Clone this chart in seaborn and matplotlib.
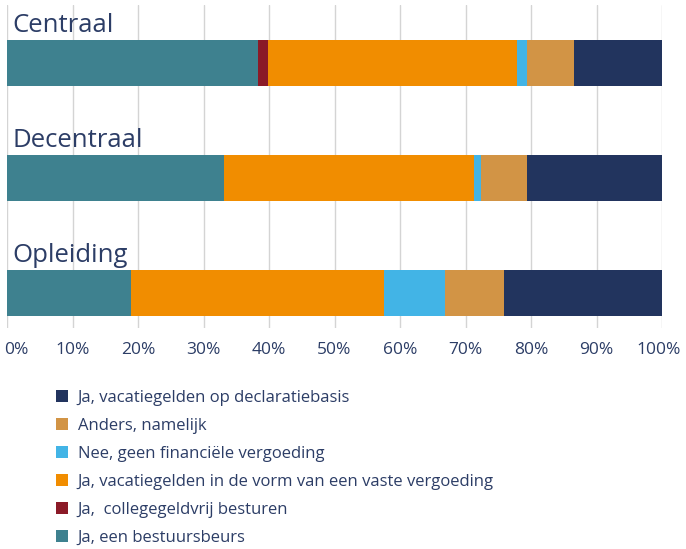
import matplotlib
matplotlib.use("Agg")
import matplotlib.pyplot as plt
import seaborn as sns
import pandas as pd
import numpy as np
from matplotlib.patches import Patch
from matplotlib.transforms import ScaledTranslation

categories = ["Centraal", "Decentraal", "Opleiding"]
series = ["Ja, een bestuursbeurs",
          "Ja,  collegegeldvrij besturen",
          "Ja, vacatiegelden in de vorm van een vaste vergoeding",
          "Nee, geen financiële vergoeding",
          "Anders, namelijk",
          "Ja, vacatiegelden op declaratiebasis"]
bestuursbeurs = [38.3, 33.2, 19.0]
collegegeldvrij = [1.6, 0.0, 0.0]
vaste_vergoeding = [38.0, 38.1, 38.6]
geen_vergoeding = [1.5, 1.0, 9.2]
anders = [7.1, 7.1, 9.1]
declaratiebasis = [13.5, 20.6, 24.1]
colors = ["#3E818F", "#8B1A27", "#F18D00", "#42B4E6", "#D29445", "#22345E"]
xticks = [0, 10, 20, 30, 40, 50, 60, 70, 80, 90, 100]

values = [bestuursbeurs, collegegeldvrij, vaste_vergoeding, geen_vergoeding, anders, declaratiebasis]
text_color = "#2C3D66"

sns.set_theme(style="white")
plt.rcParams["font.family"] = ["Open Sans", "DejaVu Sans"]

fig = plt.figure(figsize=(6.86, 5.49), dpi=100)
ax = fig.add_axes([7/686, 1-328/549, (662-7)/686, (328-5)/549])

cum = np.cumsum(np.array(values), axis=0)
rows = []
for s, name in enumerate(series):
    for c, cat in enumerate(categories):
        rows.append({"cat": cat, "series": name, "cum": cum[s, c]})
df = pd.DataFrame(rows)

for s in range(len(series) - 1, -1, -1):
    sub = df[df["series"] == series[s]]
    sns.barplot(data=sub, x="cum", y="cat", order=categories, color=colors[s],
                orient="h", width=0.4, ax=ax, saturation=1, edgecolor="none",
                linewidth=0)

ax.set_xlim(0, 100)
ax.set_ylim(2.3, -0.5)
ax.set_xticks(xticks)
ax.set_xticklabels([f"{t}%" for t in xticks], fontsize=12.5, color=text_color)
ax.tick_params(axis="x", length=0, pad=10)
lbls = ax.get_xticklabels()
lbls[0].set_horizontalalignment("left")
lbls[0].set_transform(lbls[0].get_transform() + ScaledTranslation(-3/100, 0, fig.dpi_scale_trans))
lbls[-1].set_transform(lbls[-1].get_transform() + ScaledTranslation(-3/100, 0, fig.dpi_scale_trans))
ax.set_yticks([])
ax.set_xlabel("")
ax.set_ylabel("")
ax.grid(axis="x", color="#D4D4D4", linewidth=1)
ax.set_axisbelow(True)
for sp in ax.spines.values():
    sp.set_visible(False)

for i, cat in enumerate(categories):
    ax.text(0.8, i - 0.27, cat, fontsize=18.5, color=text_color, va="baseline", ha="left")

handles = [Patch(facecolor=colors[s], edgecolor="none") for s in range(len(series) - 1, -1, -1)]
labels = [series[s] for s in range(len(series) - 1, -1, -1)]
fig.legend(handles, labels, loc="upper left", bbox_to_anchor=(56/686, 1-390/549),
           frameon=False, fontsize=12, handlelength=0.7, handleheight=0.7,
           handletextpad=0.6, labelspacing=0.72, borderpad=0, borderaxespad=0,
           labelcolor=text_color)

fig.savefig("out.png", dpi=100)
